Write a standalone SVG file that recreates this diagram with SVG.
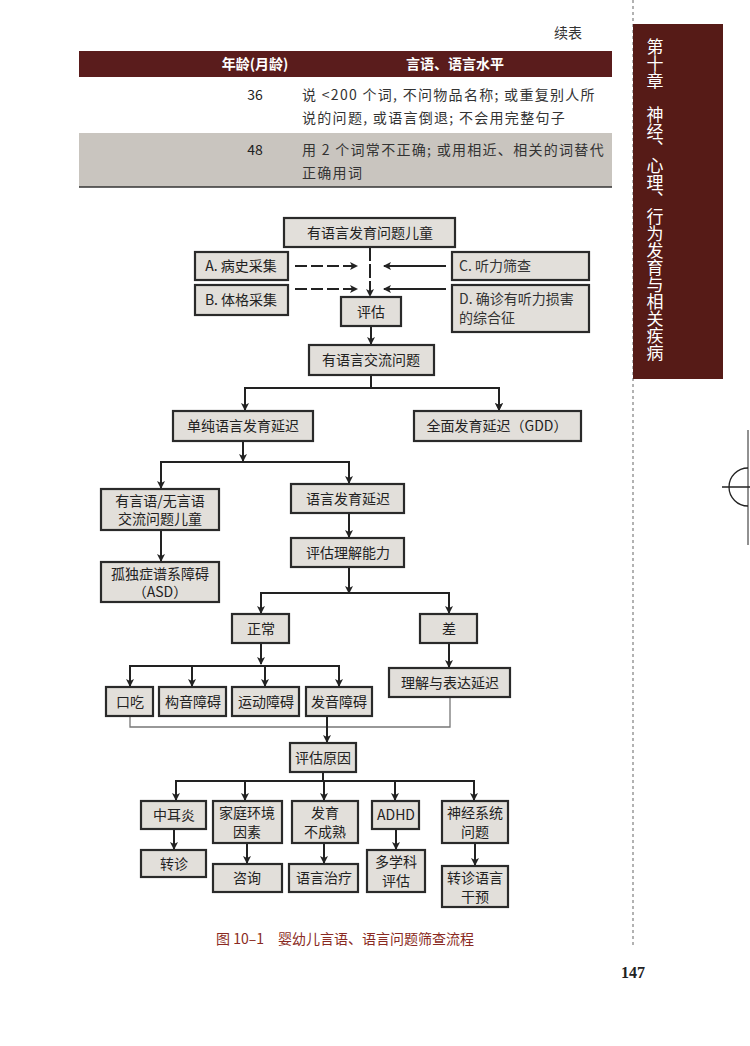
<svg xmlns="http://www.w3.org/2000/svg" width="750" height="1046" viewBox="0 0 750 1046">
<defs>
<marker id="ah" markerWidth="8" markerHeight="8" refX="7" refY="4" orient="auto" markerUnits="userSpaceOnUse"><path d="M0,0 L8,4 L0,8 L2,4 Z" fill="#222"/></marker>
<style>
.b{fill:#e2dfda;stroke:#2a2a2a;stroke-width:2.2}
.t{font-family:"Noto Sans CJK SC","Liberation Serif",serif;font-size:14px;fill:#222;text-anchor:middle}
.tt{font-family:"Noto Sans CJK SC","Liberation Serif",serif;font-size:14px;fill:#333}
.w{letter-spacing:1.3px}
.c{stroke:#222;stroke-width:2;fill:none}
.g{stroke:#777;stroke-width:1.3;fill:none}
</style>
</defs>
<rect width="750" height="1046" fill="#fff"/>
<text x="568" y="38" class="tt" style="text-anchor:middle">续表</text>
<rect x="79" y="51" width="533" height="26" fill="#5a1c1c"/>
<text x="255" y="69" class="t" style="fill:#fff;font-weight:bold">年龄(月龄)</text>
<text x="455" y="69" class="t" style="fill:#fff;font-weight:bold">言语、语言水平</text>
<text x="255" y="100" class="t">36</text>
<text x="302" y="100" class="tt w">说 &lt;200 个词, 不问物品名称; 或重复别人所</text>
<text x="302" y="123" class="tt w">说的问题, 或语言倒退; 不会用完整句子</text>
<rect x="79" y="133" width="533" height="54" fill="#c9c5bf"/>
<text x="255" y="155" class="t">48</text>
<text x="302" y="155" class="tt w">用 2 个词常不正确; 或用相近、相关的词替代</text>
<text x="302" y="178" class="tt w">正确用词</text>
<line x1="79" y1="187" x2="612" y2="187" stroke="#333" stroke-width="1.5"/>
<line x1="633" y1="0" x2="633" y2="945" stroke="#999" stroke-width="1.5" stroke-dasharray="3,3"/>
<rect x="633" y="24" width="90" height="355" fill="#561b17"/>
<text class="t" style="fill:#fff;font-size:17px;writing-mode:vertical-rl;text-anchor:start" x="655" y="38">第十章　神经、心理、行为发育与相关疾病</text>
<path d="M722 487 H750 M748 468 A19 19 0 0 0 748 506" stroke="#222" stroke-width="1.3" fill="none"/>
<line x1="748" y1="430" x2="748" y2="545" stroke="#222" stroke-width="1"/>

<g id="connectors">
<path class="c" d="M370 247 V296" stroke-dasharray="14,3" marker-end="url(#ah)"/>
<path class="c" d="M295 266 H357" stroke-dasharray="12,4" marker-end="url(#ah)"/>
<path class="c" d="M295 289 H357" stroke-dasharray="12,4" marker-end="url(#ah)"/>
<path class="c" d="M446 266 H384" marker-end="url(#ah)"/>
<path class="c" d="M446 289 H384" marker-end="url(#ah)"/>
<path class="c" d="M371 326 V344" marker-end="url(#ah)"/>
<path class="c" d="M371 375 V388 M245 410 V388 H499 V410" marker-end="url(#ah)"/>
<path class="c" d="M499 388 V410" marker-end="url(#ah)"/>
<path class="c" d="M245 388 V410" marker-end="url(#ah)"/>
<path class="c" d="M243 441 V461" marker-end="url(#ah)"/>
<path class="c" d="M161 488 V462 H349 V483" marker-end="url(#ah)"/>
<path class="c" d="M161 462 V488" marker-end="url(#ah)"/>
<path class="c" d="M161 530 V561" marker-end="url(#ah)"/>
<path class="c" d="M349 513 V537" marker-end="url(#ah)"/>
<path class="c" d="M349 567 V593" marker-end="url(#ah)"/>
<path class="c" d="M261 613 V593 H449 V613" marker-end="url(#ah)"/>
<path class="c" d="M261 593 V613" marker-end="url(#ah)"/>
<path class="c" d="M261 643 V664" marker-end="url(#ah)"/>
<path class="c" d="M130 686 V666 H339 V686" marker-end="url(#ah)"/>
<path class="c" d="M130 666 V686" marker-end="url(#ah)"/>
<path class="c" d="M192 666 V686" marker-end="url(#ah)"/>
<path class="c" d="M265 666 V686" marker-end="url(#ah)"/>
<path class="c" d="M449 643 V667" marker-end="url(#ah)"/>
<path class="g" d="M130 716 V727 H450 V697"/>
<path class="c" d="M327 716 V742" marker-end="url(#ah)"/>
<path class="c" d="M323 772 V781 M176 800 V781 H474 V800" marker-end="url(#ah)"/>
<path class="c" d="M176 781 V800" marker-end="url(#ah)"/>
<path class="c" d="M245 781 V800" marker-end="url(#ah)"/>
<path class="c" d="M324 781 V800" marker-end="url(#ah)"/>
<path class="c" d="M395 781 V800" marker-end="url(#ah)"/>
<path class="c" d="M174 829 V849" marker-end="url(#ah)"/>
<path class="c" d="M247 843 V863" marker-end="url(#ah)"/>
<path class="c" d="M324 843 V863" marker-end="url(#ah)"/>
<path class="c" d="M396 829 V849" marker-end="url(#ah)"/>
<path class="c" d="M475 843 V865" marker-end="url(#ah)"/>
</g>

<g id="n1"><rect class="b" x="284" y="218" width="171" height="29"/><text class="t" x="370" y="238">有语言发育问题儿童</text></g>
<g id="nA"><rect class="b" x="195" y="252" width="93" height="28"/><text class="t" x="241" y="271">A. 病史采集</text></g>
<g id="nB"><rect class="b" x="195" y="285" width="93" height="30"/><text class="t" x="241" y="305">B. 体格采集</text></g>
<g id="nC"><rect class="b" x="452" y="252" width="137" height="28"/><text class="tt" x="459" y="271">C. 听力筛查</text></g>
<g id="nD"><rect class="b" x="452" y="285" width="137" height="47"/><text class="tt" x="459" y="304">D. 确诊有听力损害</text><text class="tt" x="459" y="323">的综合征</text></g>
<g id="n2"><rect class="b" x="341" y="297" width="60" height="29"/><text class="t" x="371" y="317">评估</text></g>
<g id="n3"><rect class="b" x="309" y="345" width="125" height="30"/><text class="t" x="371" y="365">有语言交流问题</text></g>
<g id="n4"><rect class="b" x="173" y="411" width="140" height="30"/><text class="t" x="243" y="431">单纯语言发育延迟</text></g>
<g id="n5"><rect class="b" x="414" y="411" width="167" height="30"/><text class="t" x="497" y="431">全面发育延迟（GDD）</text></g>
<g id="n6"><rect class="b" x="101" y="489" width="118" height="41"/><text class="t" x="160" y="506">有言语/无言语</text><text class="t" x="160" y="524">交流问题儿童</text></g>
<g id="n7"><rect class="b" x="291" y="484" width="113" height="29"/><text class="t" x="348" y="504">语言发育延迟</text></g>
<g id="n8"><rect class="b" x="291" y="538" width="113" height="29"/><text class="t" x="348" y="558">评估理解能力</text></g>
<g id="n9"><rect class="b" x="101" y="562" width="118" height="40"/><text class="t" x="160" y="579">孤独症谱系障碍</text><text class="t" x="160" y="597">（ASD）</text></g>
<g id="n10"><rect class="b" x="232" y="614" width="57" height="29"/><text class="t" x="261" y="634">正常</text></g>
<g id="n11"><rect class="b" x="420" y="614" width="57" height="29"/><text class="t" x="449" y="634">差</text></g>
<g id="n12"><rect class="b" x="106" y="687" width="47" height="29"/><text class="t" x="130" y="707">口吃</text></g>
<g id="n13"><rect class="b" x="159" y="687" width="67" height="29"/><text class="t" x="193" y="707">构音障碍</text></g>
<g id="n14"><rect class="b" x="232" y="687" width="67" height="29"/><text class="t" x="266" y="707">运动障碍</text></g>
<g id="n15"><rect class="b" x="306" y="687" width="66" height="29"/><text class="t" x="339" y="707">发音障碍</text></g>
<g id="n16"><rect class="b" x="389" y="668" width="121" height="29"/><text class="t" x="450" y="688">理解与表达延迟</text></g>
<g id="n17"><rect class="b" x="290" y="743" width="66" height="29"/><text class="t" x="323" y="763">评估原因</text></g>
<g id="n18"><rect class="b" x="141" y="801" width="65" height="28"/><text class="t" x="174" y="820">中耳炎</text></g>
<g id="n19"><rect class="b" x="213" y="801" width="69" height="42"/><text class="t" x="247" y="818">家庭环境</text><text class="t" x="247" y="837">因素</text></g>
<g id="n20"><rect class="b" x="292" y="801" width="66" height="42"/><text class="t" x="325" y="818">发育</text><text class="t" x="325" y="837">不成熟</text></g>
<g id="n21"><rect class="b" x="372" y="801" width="47" height="28"/><text class="t" x="396" y="820">ADHD</text></g>
<g id="n22"><rect class="b" x="442" y="801" width="66" height="42"/><text class="t" x="475" y="818">神经系统</text><text class="t" x="475" y="837">问题</text></g>
<g id="n23"><rect class="b" x="141" y="850" width="65" height="27"/><text class="t" x="174" y="869">转诊</text></g>
<g id="n24"><rect class="b" x="213" y="864" width="69" height="28"/><text class="t" x="247" y="883">咨询</text></g>
<g id="n25"><rect class="b" x="289" y="864" width="69" height="28"/><text class="t" x="324" y="883">语言治疗</text></g>
<g id="n26"><rect class="b" x="367" y="850" width="58" height="42"/><text class="t" x="396" y="867">多学科</text><text class="t" x="396" y="886">评估</text></g>
<g id="n27"><rect class="b" x="442" y="866" width="66" height="41"/><text class="t" x="475" y="883">转诊语言</text><text class="t" x="475" y="902">干预</text></g>

<text x="345" y="944" class="t" style="fill:#8a2a22;font-family:'Noto Sans CJK SC',sans-serif">图 10–1　婴幼儿言语、语言问题筛查流程</text>
<text x="633" y="978" class="t" style="font-family:'Liberation Serif',serif;font-weight:bold;font-size:16px">147</text>
</svg>
